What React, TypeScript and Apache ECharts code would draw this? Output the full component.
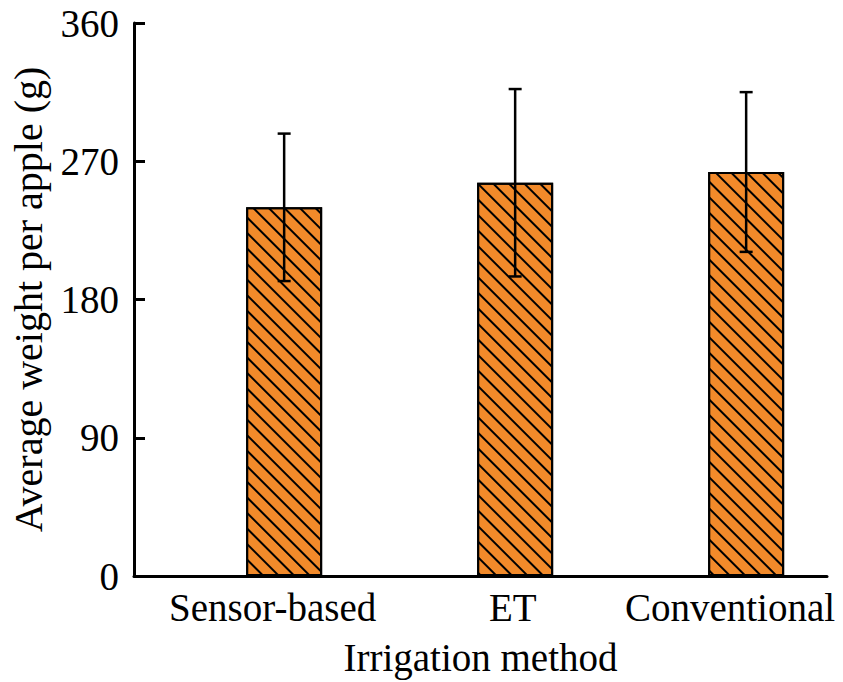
import React, { useEffect, useRef } from "react";
import * as echarts from "echarts";

const categories = ["Sensor-based", "ET", "Conventional"];
const categoryPos = [1, 2, 3];
const labelAt = [0.95, 1.99, 2.93];
const meanWeight = [240, 256, 263];
const sdWeight = [48, 61, 52];
const yTicks = { min: 0, max: 360, interval: 90 };

const FONT = "'Liberation Serif', 'Times New Roman', serif";

export default function App() {
  const ref = useRef<HTMLDivElement>(null);
  useEffect(() => {
    document.body.style.margin = "0";
    const chart = echarts.init(ref.current!, null, { renderer: "svg" });
    const barData = meanWeight.map((v, i) => [categoryPos[i], v]);
    const errData = meanWeight.map((v, i) => [categoryPos[i], v, sdWeight[i]]);
    chart.setOption({
      animation: false,
      backgroundColor: "#ffffff",
      grid: { left: 134, right: 16, top: 23, bottom: 102 },
      xAxis: {
        type: "value",
        min: 0.35,
        max: 3.35,
        name: "Irrigation method",
        nameLocation: "middle",
        nameGap: 62,
        nameTextStyle: { fontFamily: FONT, fontSize: 39, color: "#000" },
        axisLine: { show: true, lineStyle: { color: "#000", width: 3 } },
        axisTick: { show: false },
        splitLine: { show: false },
        axisLabel: {
          customValues: labelAt,
          formatter: (v: number) => {
            let best = 0;
            labelAt.forEach((p, i) => {
              if (Math.abs(p - v) < Math.abs(labelAt[best] - v)) best = i;
            });
            return categories[best];
          },
          fontFamily: FONT,
          fontSize: 39,
          color: "#000",
          margin: 12,
        },
      },
      yAxis: {
        type: "value",
        min: yTicks.min,
        max: yTicks.max,
        interval: yTicks.interval,
        name: "Average weight per apple (g)",
        nameLocation: "middle",
        nameGap: 86,
        nameTextStyle: { fontFamily: FONT, fontSize: 40, color: "#000" },
        axisLine: { show: true, lineStyle: { color: "#000", width: 3 } },
        axisTick: { show: true, inside: true, length: 11, lineStyle: { color: "#000", width: 3 } },
        splitLine: { show: false },
        axisLabel: { fontFamily: FONT, fontSize: 39, color: "#000", margin: 15 },
      },
      series: [
        {
          type: "bar",
          data: barData,
          barWidth: 76,
          itemStyle: {
            color: "#F28A2A",
            borderColor: "#000",
            borderWidth: 2,
            decal: {
              symbol: "rect",
              symbolSize: 1,
              dashArrayX: [1, 0],
              dashArrayY: [2, 9],
              rotation: Math.PI / 4,
              color: "#000",
            },
          },
          z: 2,
        },
        {
          type: "custom",
          data: errData,
          z: 5,
          renderItem: (params: any, api: any) => {
            const x = api.value(0);
            const m = api.value(1);
            const s = api.value(2);
            const top = api.coord([x, m + s]);
            const bot = api.coord([x, m - s]);
            const hw = 6.5;
            const st = { stroke: "#000", lineWidth: 2.5 };
            return {
              type: "group",
              children: [
                { type: "line", shape: { x1: top[0], y1: top[1], x2: bot[0], y2: bot[1] }, style: st },
                { type: "line", shape: { x1: top[0] - hw, y1: top[1], x2: top[0] + hw, y2: top[1] }, style: st },
                { type: "line", shape: { x1: bot[0] - hw, y1: bot[1], x2: bot[0] + hw, y2: bot[1] }, style: st },
              ],
            };
          },
        },
      ],
    });
    return () => chart.dispose();
  }, []);
  return <div ref={ref} style={{ width: 843, height: 682 }} />;
}
